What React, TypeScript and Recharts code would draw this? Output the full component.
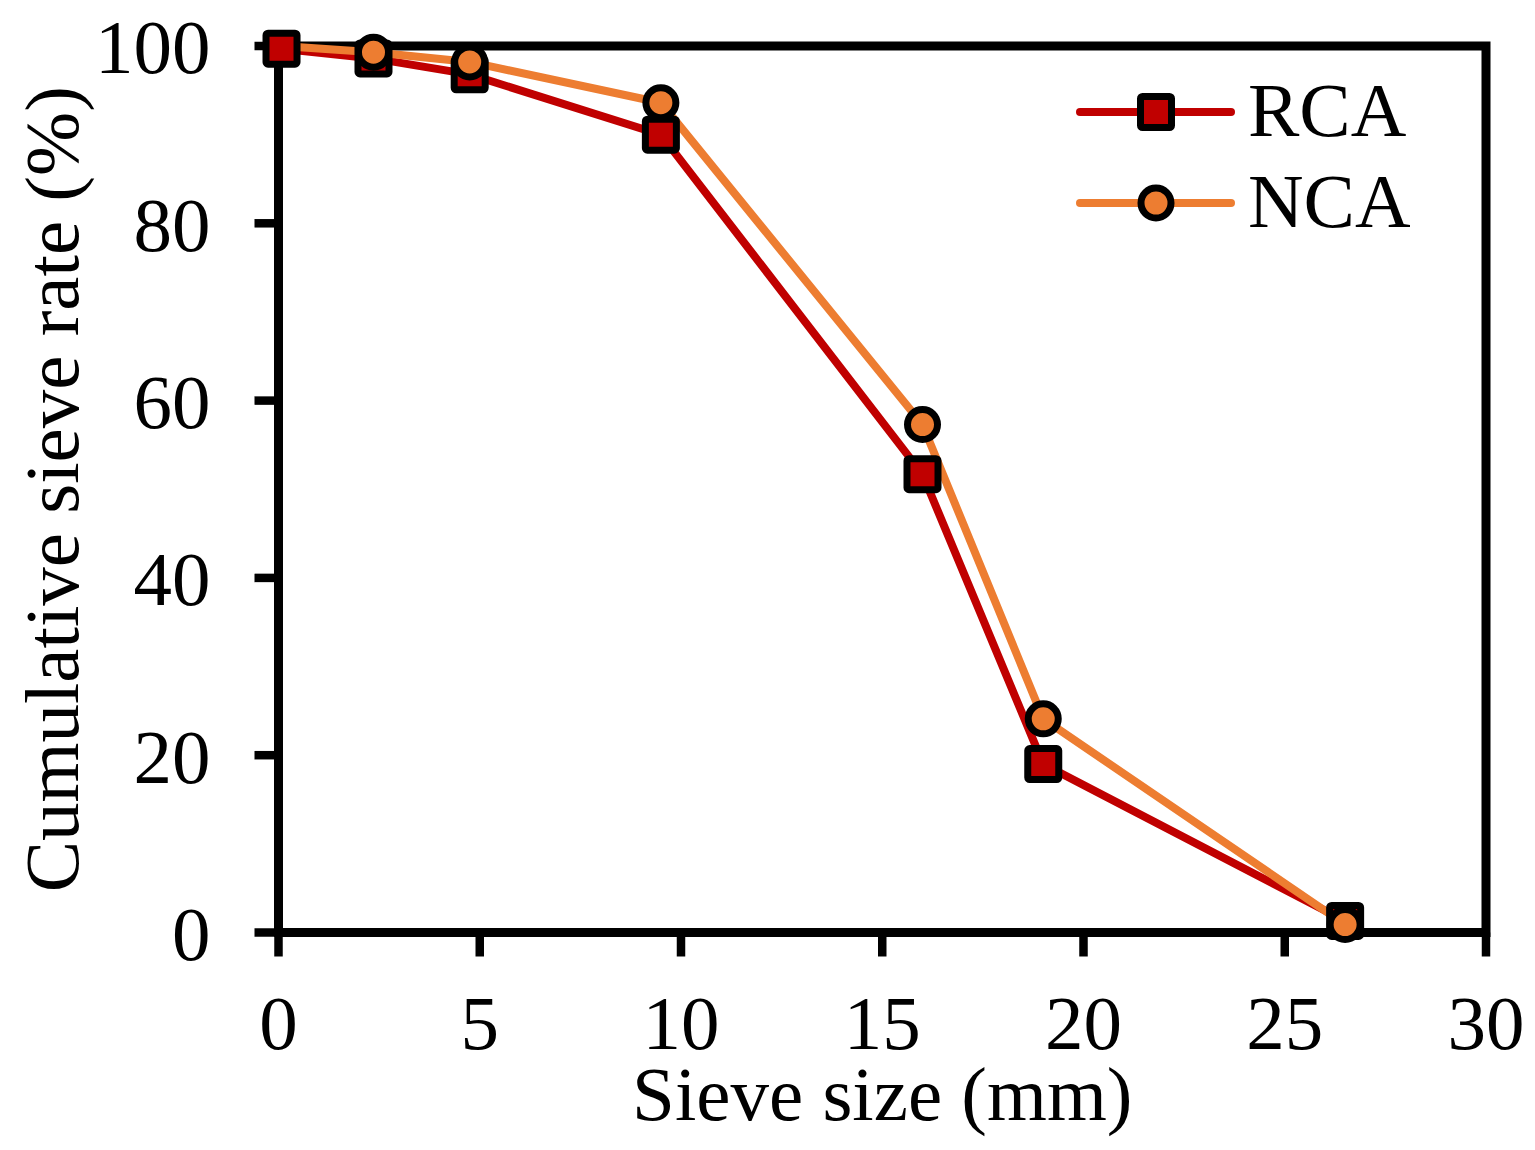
import React from 'react';
import { LineChart, Line, XAxis, YAxis, ReferenceArea, Legend, Label } from 'recharts';

const sieveSizes = [0.075, 2.36, 4.75, 9.5, 16, 19, 26.5];
const rcaValues = [99.7, 98.6, 96.8, 90.0, 51.7, 19.0, 1.3];
const ncaValues = [100, 99.3, 98.2, 93.6, 57.3, 24.1, 0.9];
const xTicks = [0, 5, 10, 15, 20, 25, 30];
const yTicks = [0, 20, 40, 60, 80, 100];
const seriesNames = ['RCA', 'NCA'];

const RED = '#C00000';
const ORANGE = '#ED7D31';
const FONT = '"Liberation Serif", "Times New Roman", serif';
const FS = 77;

const data = sieveSizes.map((s, i) => ({ size: s, RCA: rcaValues[i], NCA: ncaValues[i] }));

const SquareDot = (props: any) => {
  const { cx, cy, index } = props;
  if (cx == null || cy == null) return <g key={`rs-${index}`} />;
  return (
    <rect
      key={`rs-${index}`}
      x={cx - 15.5}
      y={cy - 15.5}
      width={31}
      height={31}
      rx={2}
      fill={RED}
      stroke="#000"
      strokeWidth={7}
    />
  );
};

const CircleDot = (props: any) => {
  const { cx, cy, index } = props;
  if (cx == null || cy == null || index === 0) return <g key={`nc-${index}`} />;
  return <circle key={`nc-${index}`} cx={cx} cy={cy} r={15} fill={ORANGE} stroke="#000" strokeWidth={7} />;
};

const renderLegend = () => (
  <svg width={340} height={190} style={{ display: 'block' }}>
    <line x1={10} y1={52} x2={161} y2={52} stroke={RED} strokeWidth={8} strokeLinecap="round" />
    <rect x={86 - 15.5} y={52 - 15.5} width={31} height={31} rx={2} fill={RED} stroke="#000" strokeWidth={7} />
    <text x={178} y={76} fontFamily={FONT} fontSize={FS} fill="#000">
      {seriesNames[0]}
    </text>
    <line x1={10} y1={143} x2={161} y2={143} stroke={ORANGE} strokeWidth={8} strokeLinecap="round" />
    <circle cx={86} cy={143} r={15} fill={ORANGE} stroke="#000" strokeWidth={7} />
    <text x={178} y={167} fontFamily={FONT} fontSize={FS} fill="#000">
      {seriesNames[1]}
    </text>
  </svg>
);

const tickStyle = { fill: '#000', fontSize: FS, fontFamily: FONT };
const axisLineStyle = { stroke: '#000', strokeWidth: 9 };
const tickLineStyle = { stroke: '#000', strokeWidth: 8.5 };

export default function App() {
  return (
    <LineChart
      width={1519}
      height={1134}
      data={data}
      margin={{ top: 38, right: 41, bottom: 0, left: 0 }}
    >
      <ReferenceArea x1={0} x2={30} y1={0} y2={100} fill="none" stroke="#000" strokeWidth={9} />
      <XAxis
        dataKey="size"
        type="number"
        domain={[0, 30]}
        ticks={xTicks}
        interval={0}
        height={209.5}
        tick={tickStyle}
        tickSize={24}
        tickMargin={38}
        axisLine={axisLineStyle}
        tickLine={tickLineStyle}
      >
        <Label
          value="Sieve size (mm)"
          position="insideBottom"
          offset={22}
          fontSize={FS}
          fontFamily={FONT}
          fill="#000"
          style={{ fontSize: FS, fontFamily: FONT, fill: '#000' }}
        />
      </XAxis>
      <YAxis
        type="number"
        domain={[0, 100]}
        ticks={yTicks}
        interval={0}
        width={270.5}
        tick={tickStyle}
        tickSize={24}
        tickMargin={44}
        axisLine={axisLineStyle}
        tickLine={tickLineStyle}
      >
        <Label
          value="Cumulative sieve rate (%)"
          angle={-90}
          position="insideLeft"
          offset={43}
          fontSize={FS}
          fontFamily={FONT}
          fill="#000"
          style={{ textAnchor: 'middle', fontSize: FS, fontFamily: FONT, fill: '#000' }}
        />
      </YAxis>
      <Legend
        layout="vertical"
        align="center"
        verticalAlign="middle"
        content={renderLegend}
        wrapperStyle={{ left: 1062, top: 52, width: 340, height: 190 }}
      />
      <Line
        dataKey="RCA"
        name={seriesNames[0]}
        stroke={RED}
        strokeWidth={8}
        dot={SquareDot}
        activeDot={false}
        isAnimationActive={false}
      />
      <Line
        dataKey="NCA"
        name={seriesNames[1]}
        stroke={ORANGE}
        strokeWidth={8}
        dot={CircleDot}
        activeDot={false}
        isAnimationActive={false}
      />
    </LineChart>
  );
}
